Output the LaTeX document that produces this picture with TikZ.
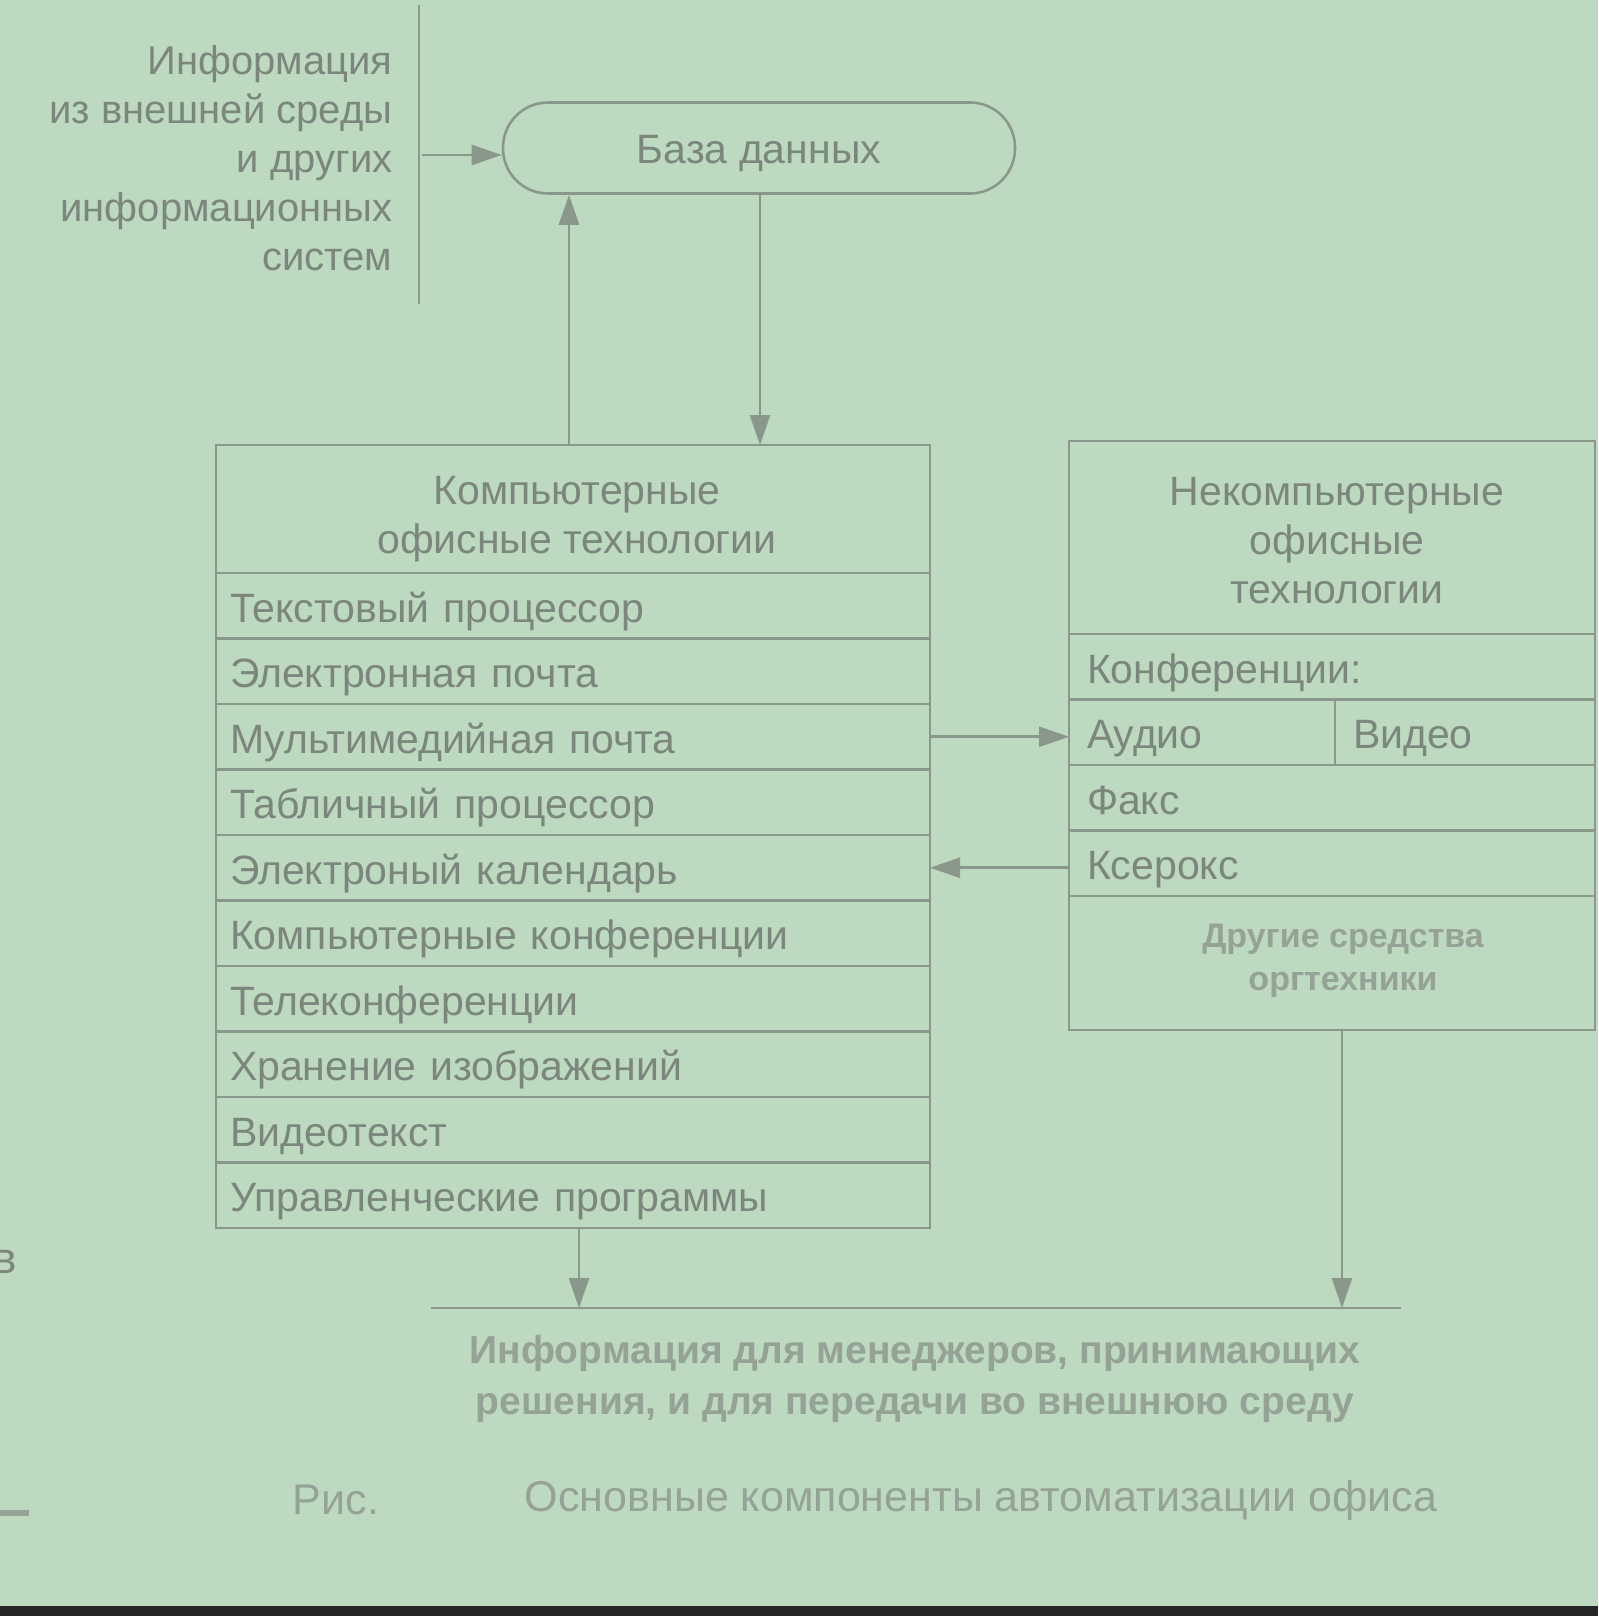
\documentclass[tikz,border=0pt]{standalone}
\usepackage{fontspec}
\setmainfont{Liberation Sans}
\usetikzlibrary{arrows.meta,calc}
\definecolor{bg}{HTML}{BDD9C0}
\definecolor{ink}{HTML}{8A978B}
\definecolor{txt}{HTML}{7B877C}
\definecolor{pale}{HTML}{95A396}
\begin{document}
\begin{tikzpicture}[x=1pt,y=-1pt,
  line/.style={draw=ink, line width=2.6pt},
  arr/.style={line, -{Triangle[length=30pt,width=20pt]}},
  lbl/.style={text=txt, font=\fontsize{40}{49}\selectfont},
  rowL/.style={draw=ink, line width=2.6pt, anchor=north west, outer sep=0pt, minimum width=714pt,
    minimum height=65.5pt, text width=686pt, inner xsep=14pt, inner ysep=0pt,
    text height=35pt, text depth=2pt, align=left, text=txt,
    font=\fontsize{41}{48}\selectfont},
  rowR/.style={draw=ink, line width=2.6pt, anchor=north west, outer sep=0pt, minimum height=65.5pt,
    inner xsep=18pt, inner ysep=0pt, text height=35pt, text depth=2pt,
    align=left, text=txt, font=\fontsize{41}{48}\selectfont},
  box/.style={draw=ink, line width=2.6pt, anchor=north west, outer sep=0pt, inner sep=0pt},
  htxt/.style={text=txt, align=center, font=\fontsize{41}{49}\selectfont}
]
\fill[bg] (0,0) rectangle (1598,1616);
\useasboundingbox (0,0) rectangle (1598,1616);
\fill[black!85] (0,1606) rectangle (1598,1616);

% input text and vertical divider
\node[lbl, anchor=east, align=right] (inp) at (396,158)
  {Информация\\из внешней среды\\и других\\информационных\\систем};
\coordinate (vt) at (419,5);
\coordinate (vb) at (419,304);
\draw[line] (vt) -- (vb);

% database
\node[draw=ink, line width=2.6pt, rounded corners=45pt, minimum width=512pt,
  minimum height=91pt, text=txt, font=\fontsize{41}{48}\selectfont] (db) at (759,148) {};
\node[text=txt, font=\fontsize{41}{48}\selectfont] (dbt) at (759,153) {База данных};
\coordinate (inL) at (422,155);
\draw[arr] (inL) -- (inL -| db.west);

% computer technologies
\node[box, minimum width=714pt, minimum height=128pt] (hL) at (216,445) {};
\node[htxt] (hLt) at (577,519) {Компьютерные\\офисные технологии};
\node[rowL] (r1) at (216,573) {Текстовый процессор};
\node[rowL] (r2) at (r1.south west) {Электронная почта};
\node[rowL] (r3) at (r2.south west) {Мультимедийная почта};
\node[rowL] (r4) at (r3.south west) {Табличный процессор};
\node[rowL] (r5) at (r4.south west) {Электроный календарь};
\node[rowL] (r6) at (r5.south west) {Компьютерные конференции};
\node[rowL] (r7) at (r6.south west) {Телеконференции};
\node[rowL] (r8) at (r7.south west) {Хранение изображений};
\node[rowL] (r9) at (r8.south west) {Видеотекст};
\node[rowL] (r10) at (r9.south west) {Управленческие программы};

% non-computer technologies
\node[box, minimum width=526pt, minimum height=193pt] (hR) at (1069,441) {};
\node[htxt] (hRt) at (1337,541) {Некомпьютерные\\офисные\\технологии};
\node[rowR, minimum width=526pt, text width=490pt] (c1) at (hR.south west) {Конференции:};
\node[rowR, minimum width=266pt, text width=230pt] (aud) at (c1.south west) {Аудио};
\node[rowR, minimum width=260pt, text width=224pt] (vid) at (aud.north east) {Видео};
\node[rowR, minimum width=526pt, text width=490pt] (fax) at (aud.south west) {Факс};
\node[rowR, minimum width=526pt, text width=490pt] (xer) at (fax.south west) {Ксерокс};
\node[box, minimum width=526pt, minimum height=134pt] (oth) at (xer.south west) {};
\node[text=pale, align=center, font=\bfseries\fontsize{34}{43}\selectfont] (otht)
  at (1343,961) {Другие средства\\оргтехники};

% connectors between boxes
\draw[arr] (db.south -| 760,0) -- (hL.north -| 760,0);
\draw[arr] (hL.north -| 569,0) -- (db.south -| 569,0);
\draw[arr] (r3.east) -- (r3.east -| c1.west);
\draw[arr] (r5.east -| xer.west) -- (r5.east);

% output line
\coordinate (bl) at (431,1308);
\coordinate (br) at (1401,1308);
\draw[line] (bl) -- (br);
\draw[arr] (r10.south -| 579,0) -- (bl -| 579,0);
\draw[arr] (oth.south -| 1342,0) -- (bl -| 1342,0);

\node[text=pale, align=center, font=\bfseries\fontsize{39}{51}\selectfont] (out) at (915,1379)
  {Информация для менеджеров, принимающих\\решения, и для передачи во внешнюю среду};

% caption
\node[text=pale, font=\fontsize{43}{48}\selectfont] (fig) at (336,1500) {Рис.};
\node[text=pale, font=\fontsize{43}{48}\selectfont] (cap) at (981,1500) {Основные компоненты автоматизации офиса};

% fragments at the left edge
\node[text=txt, font=\fontsize{44}{48}\selectfont, anchor=east] (frag) at (20,1262) {в};
\coordinate (dl) at (0,1513);
\coordinate (dr) at (29,1513);
\draw[draw=pale, line width=6pt] (dl) -- (dr);
\end{tikzpicture}
\end{document}
